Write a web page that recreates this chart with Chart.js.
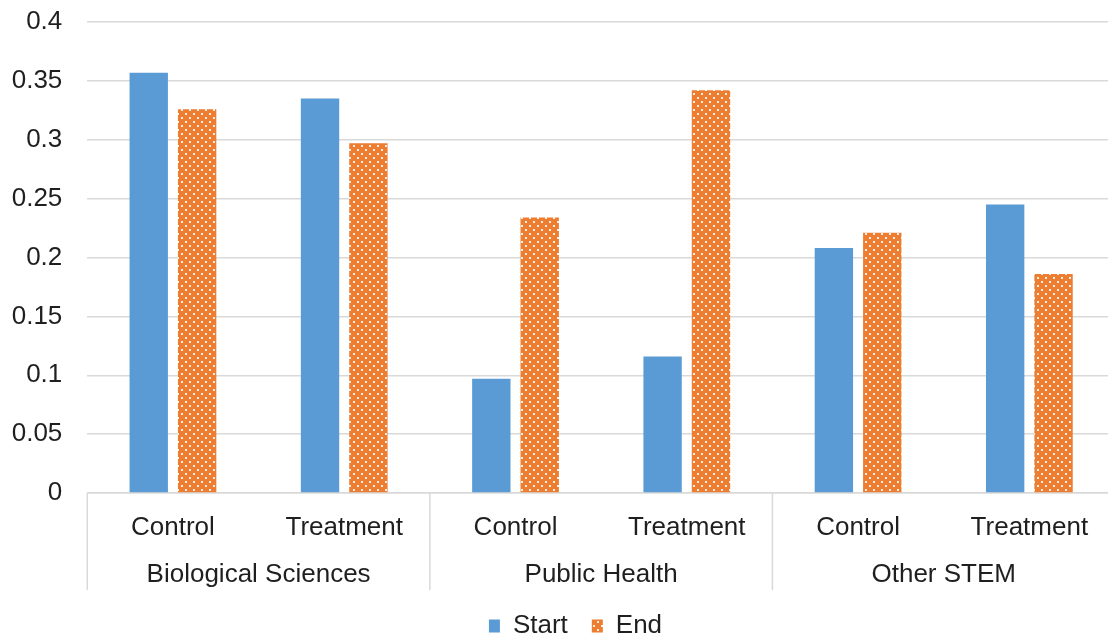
<!DOCTYPE html>
<html>
<head>
<meta charset="utf-8">
<script src="https://cdn.jsdelivr.net/npm/chart.js@4/dist/chart.umd.min.js"></script>
<style>
  html, body { margin: 0; padding: 0; background: #ffffff; overflow: hidden; }
  #wrap { position: relative; width: 1151px; height: 641px; }
</style>
</head>
<body>
<div id="wrap"><canvas id="chart"></canvas></div>
<script>
// Arm within each field of study
const arms = ['Control', 'Treatment', 'Control', 'Treatment', 'Control', 'Treatment'];
// Field of study, each spanning two arms
const fields = ['Biological Sciences', 'Public Health', 'Other STEM'];
// Proportion at the start and at the end
const startValues = [0.357, 0.335, 0.097, 0.116, 0.208, 0.245];
const endValues   = [0.326, 0.297, 0.234, 0.342, 0.221, 0.186];
// Value axis
const yMin = 0;
const yMax = 0.4;
const yStep = 0.05;

const BLUE = '#5B9BD5';
const ORANGE = '#ED7D31';
const GRID = '#d9d9d9';
const TEXT = '#1f1f1f';
const FONT = "'Liberation Sans', Arial, sans-serif";

// Orange fill with a grid of small light dots
function dottedPattern() {
  const tile = document.createElement('canvas');
  tile.width = 8;
  tile.height = 8;
  const t = tile.getContext('2d');
  t.fillStyle = ORANGE;
  t.fillRect(0, 0, 8, 8);
  t.fillStyle = 'rgba(255,244,236,0.95)';
  t.fillRect(1, 1, 2, 2);
  t.fillRect(5, 5, 2, 2);
  return t.createPattern(tile, 'repeat');
}
const dots = dottedPattern();

// Vertical dividers between the field groups below the plot
const fieldDividers = {
  id: 'fieldDividers',
  afterDraw(chart) {
    const s = chart.scales.xField;
    const ctx = chart.ctx;
    const n = fields.length;
    const xs = [s.left];
    for (let i = 1; i < n; i++) {
      xs.push((s.getPixelForValue(i - 1) + s.getPixelForValue(i)) / 2);
    }
    xs.push(s.right);
    ctx.save();
    ctx.strokeStyle = GRID;
    ctx.lineWidth = 1.5;
    ctx.beginPath();
    xs.forEach(x => {
      ctx.moveTo(x, chart.chartArea.bottom);
      ctx.lineTo(x, s.bottom + 1);
    });
    ctx.stroke();
    ctx.restore();
  }
};

// Centre the legend on the full chart width rather than the padded box
const legendShift = {
  id: 'legendShift',
  afterLayout(chart) {
    const lg = chart.legend;
    if (lg) { lg.left += 12.5; lg.right += 12.5; }
  }
};

new Chart(document.getElementById('chart'), {
  type: 'bar',
  data: {
    labels: arms,
    datasets: [
      { label: 'Start', data: startValues, backgroundColor: BLUE, borderWidth: 0 },
      { label: 'End', data: endValues, backgroundColor: dots, borderWidth: 0 }
    ]
  },
  options: {
    responsive: true,
    maintainAspectRatio: false,
    animation: false,
    devicePixelRatio: 1,
    categoryPercentage: 0.565,
    barPercentage: 0.793,
    layout: { padding: { left: 11, right: 36, top: 22, bottom: -8 } },
    plugins: {
      legend: {
        position: 'bottom',
        labels: {
          boxWidth: 11,
          boxHeight: 13,
          padding: 24,
          color: TEXT,
          font: { family: FONT, size: 26 }
        }
      },
      tooltip: { enabled: false }
    },
    scales: {
      y: {
        min: yMin,
        max: yMax,
        ticks: {
          stepSize: yStep,
          padding: 25,
          color: TEXT,
          font: { family: FONT, size: 26 },
          callback: v => String(+Number(v).toFixed(2))
        },
        grid: { color: GRID, lineWidth: 1.5, drawTicks: false },
        border: { display: false },
        afterFit(scale) { scale.width = 76.3; scale.paddingTop = 0; scale.paddingBottom = 0; }
      },
      x: {
        type: 'category',
        offset: true,
        ticks: {
          padding: 19.4,
          color: TEXT,
          maxRotation: 0,
          autoSkip: false,
          font: { family: FONT, size: 26 }
        },
        grid: { display: true, drawOnChartArea: false, drawTicks: false },
        border: { display: true, color: GRID, width: 1.5 },
        afterFit(scale) { scale.height = 48; }
      },
      xField: {
        type: 'category',
        position: 'bottom',
        labels: fields,
        offset: true,
        ticks: {
          padding: 18.4,
          color: TEXT,
          maxRotation: 0,
          autoSkip: false,
          font: { family: FONT, size: 26 }
        },
        grid: { display: false, drawTicks: false },
        border: { display: false },
        afterFit(scale) { scale.height = 48; }
      }
    }
  },
  plugins: [fieldDividers, legendShift]
});
</script>
</body>
</html>
